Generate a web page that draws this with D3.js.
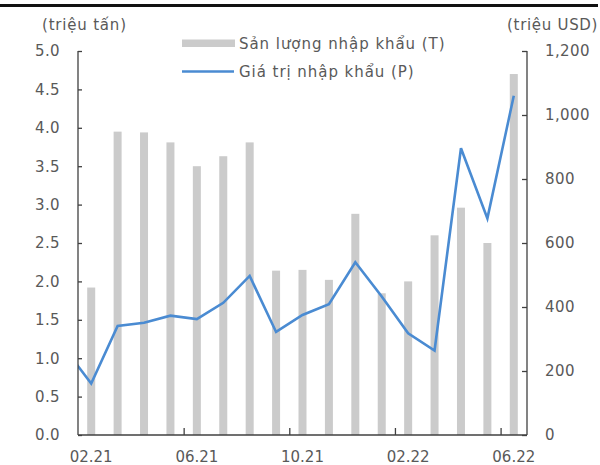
<!DOCTYPE html>
<html>
<head>
<meta charset="utf-8">
<script src="https://cdn.jsdelivr.net/npm/d3@7"></script>
<style>
  html, body { margin: 0; padding: 0; background: #fff; overflow: hidden; }
  svg { display: block; }
  text { font-family: "DejaVu Sans", Verdana, sans-serif; }
</style>
</head>
<body>
<svg id="chart" width="600" height="465" viewBox="0 0 600 465"></svg>
<script>
// ---- Data ----
const months = ["02.21","03.21","04.21","05.21","06.21","07.21","08.21","09.21","10.21","11.21","12.21","01.22","02.22","03.22","04.22","05.22","06.22"];
const volume = [1.92, 3.95, 3.94, 3.81, 3.50, 3.63, 3.81, 2.14, 2.15, 2.02, 2.88, 1.845, 2.00, 2.60, 2.96, 2.50, 4.70]; // triệu tấn
const lineMonths = ["01.21","02.21","03.21","04.21","05.21","06.21","07.21","08.21","09.21","10.21","11.21","12.21","01.22","02.22","03.22","04.22","05.22","06.22"];
const value = [270, 161, 341, 351, 373, 362, 413, 497, 322, 375, 409, 540, 433, 318, 264, 896, 677, 1060]; // triệu USD
const xTickLabels = ["02.21","06.21","10.21","02.22","06.22"];
const leftTicks = [0,0.5,1,1.5,2,2.5,3,3.5,4,4.5,5];
const rightTicks = [0,200,400,600,800,1000,1200];
const legendLabels = ["Sản lượng nhập khẩu (T)", "Giá trị nhập khẩu (P)"];
const leftTitle = "(triệu tấn)";
const rightTitle = "(triệu USD)";

// ---- Layout ----
const L = 78, R = 527, T = 51, B = 435;
const svg = d3.select("#chart");
const step = (R - L) / months.length;

const x = d3.scaleBand().domain(lineMonths).range([L - step, R]).paddingInner(0).paddingOuter(0);
const yL = d3.scaleLinear().domain([0, 5]).range([B, T]);
const yR = d3.scaleLinear().domain([0, 1200]).range([B, T]);
const barW = 8;
const cx = m => x(m) + x.bandwidth() / 2;

const axisColor = "#404040";
const textColor = "#595959";

// background + top rule
svg.append("rect").attr("x", 0).attr("y", 0).attr("width", 600).attr("height", 465).attr("fill", "#fff");
svg.append("path").attr("d", "M0,4H598V7H0Z").attr("fill", "#111").attr("stroke", "none");

// bars
svg.append("g").selectAll("rect").data(months).join("rect")
  .attr("x", m => cx(m) - barW / 2)
  .attr("width", barW)
  .attr("y", (m, i) => yL(volume[i]))
  .attr("height", (m, i) => B - yL(volume[i]))
  .attr("fill", "#cbcbcb");

// line (clipped to plot)
svg.append("clipPath").attr("id", "plotclip")
  .append("rect").attr("x", L).attr("y", 0).attr("width", R - L).attr("height", B);
const lineGen = d3.line().x(d => cx(d.m)).y(d => yR(d.v));
svg.append("path")
  .datum(lineMonths.map((m, i) => ({m, v: value[i]})))
  .attr("clip-path", "url(#plotclip)")
  .attr("d", lineGen)
  .attr("fill", "none")
  .attr("stroke", "#4a8bd2")
  .attr("stroke-width", 2.6)
  .attr("stroke-linejoin", "miter");

// left axis
const gL = svg.append("g").attr("transform", `translate(${L},0)`)
  .call(d3.axisLeft(yL).tickValues(leftTicks).tickFormat(d3.format(".1f")).tickSize(-4).tickPadding(18));
// right axis
const gR = svg.append("g").attr("transform", `translate(${R},0)`)
  .call(d3.axisRight(yR).tickValues(rightTicks).tickFormat(d3.format(",")).tickSize(-5).tickPadding(18));
// bottom axis
const xb = d3.scaleLinear().domain([0, months.length]).range([L, R]);
const gB = svg.append("g").attr("transform", `translate(0,${B})`)
  .call(d3.axisBottom(xb).tickValues([4, 8, 12, 16]).tickSize(-7).tickFormat(""));

[gL, gR, gB].forEach(g => {
  g.select(".domain").attr("stroke", axisColor).attr("stroke-width", 1.3);
  g.selectAll(".tick line").attr("stroke", axisColor).attr("stroke-width", 1.3);
  g.selectAll(".tick text").attr("fill", textColor).attr("font-size", 15)
    .attr("letter-spacing", 0.4)
    .attr("font-family", '"DejaVu Sans", Verdana, sans-serif');
});
gL.select(".domain").attr("d", `M0,${T}V${B}`);
gR.select(".domain").attr("d", `M0,${T}V${B}`);
gB.select(".domain").attr("d", `M${L},0H${R}`);

// x tick labels (centered on categories)
svg.append("g").selectAll("text").data(xTickLabels).join("text")
  .attr("x", m => cx(m))
  .attr("y", 462)
  .attr("text-anchor", "middle")
  .attr("font-size", 15)
  .attr("fill", textColor)
  .text(d => d);

// axis titles
svg.append("text").attr("x", 42).attr("y", 30).attr("font-size", 15).attr("letter-spacing", 0.8).attr("fill", textColor).text(leftTitle);
svg.append("text").attr("x", 507).attr("y", 30).attr("font-size", 15).attr("letter-spacing", 0.7).attr("fill", textColor).text(rightTitle);

// legend
const lg = svg.append("g");
lg.append("rect").attr("x", 182).attr("y", 39.5).attr("width", 53).attr("height", 7.5).attr("fill", "#cbcbcb");
lg.append("text").attr("x", 239).attr("y", 48.5).attr("font-size", 15).attr("letter-spacing", 0.95).attr("fill", textColor).text(legendLabels[0]);
lg.append("line").attr("x1", 182).attr("x2", 234).attr("y1", 71.5).attr("y2", 71.5).attr("stroke", "#4a8bd2").attr("stroke-width", 2.4);
lg.append("text").attr("x", 239).attr("y", 77).attr("font-size", 15).attr("letter-spacing", 0.95).attr("fill", textColor).text(legendLabels[1]);
</script>
</body>
</html>
